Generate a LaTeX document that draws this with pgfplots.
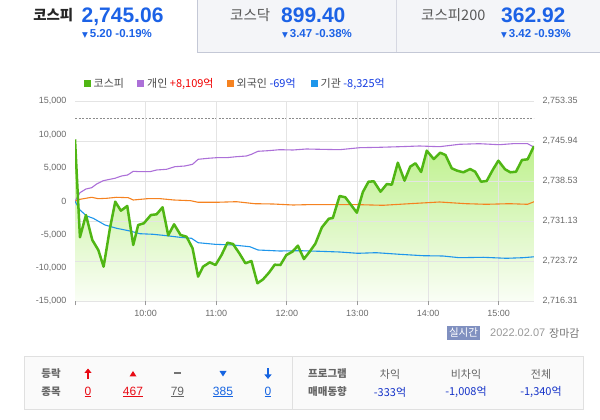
\documentclass[border=0pt]{standalone}
\usepackage{pgfplots}
\pgfplotsset{compat=1.18}
\usepackage{pgfplotstable}
\usetikzlibrary{arrows.meta}
\usepackage{fontspec}
\setmainfont{Liberation Sans}
\newfontfamily\kr{Noto Sans CJK KR}
\newfontfamily\dv{DejaVu Sans}
\definecolor{kgreen}{RGB}{80,182,20}
\definecolor{kpurple}{RGB}{172,112,216}
\definecolor{korange}{RGB}{245,130,32}
\definecolor{kblue}{RGB}{30,150,235}
\definecolor{numblue}{RGB}{28,98,230}
\definecolor{tickgray}{RGB}{105,105,105}
\definecolor{gridgray}{RGB}{228,228,228}
\definecolor{tabbg}{RGB}{244,245,248}
\definecolor{tabline}{RGB}{196,200,214}
\definecolor{badge}{RGB}{128,144,192}
\definecolor{updred}{RGB}{232,10,20}
\definecolor{dnblue}{RGB}{22,100,225}
\definecolor{valblue}{RGB}{20,50,200}
\definecolor{legred}{RGB}{240,0,0}
\definecolor{legblue}{RGB}{20,60,225}
\definecolor{filltop}{RGB}{188,240,138}
\definecolor{fillbot}{RGB}{250,254,246}

% KOSPI index (right axis), t = minutes after 09:00
\pgfplotstableread{
t v
0 2746.31
4.2 2728.16
9.3 2732.29
14.7 2727.66
19.8 2725.81
24.3 2722.72
29.7 2729.83
34.2 2734.76
39.0 2733.09
44.4 2733.96
49.5 2726.74
53.7 2730.44
58.5 2730.76
64.5 2732.29
69.3 2732.42
74.4 2733.72
79.2 2728.53
84.2 2730.57
89.7 2728.59
94.8 2728.27
99.9 2726.13
104.6 2720.87
108.8 2722.72
114.5 2723.53
119.4 2723.03
124.5 2724.88
129.5 2727.16
134.3 2726.92
140.0 2725.07
144.8 2723.35
149.9 2723.77
155.0 2719.64
159.8 2720.38
164.8 2721.61
169.7 2723.09
174.5 2723.03
179.6 2724.88
184.7 2725.50
189.4 2726.61
194.5 2724.14
199.4 2725.50
204.2 2726.98
209.8 2730.01
215.7 2731.61
219.1 2731.74
224.8 2735.81
229.7 2735.57
239.5 2732.72
244.6 2736.55
249.4 2738.46
253.9 2738.53
259.6 2736.61
265.0 2738.03
269.2 2737.90
274.3 2741.98
280.0 2738.65
284.8 2741.24
289.3 2741.87
294.1 2740.26
298.9 2744.20
304.8 2742.66
310.3 2743.83
314.8 2743.40
320.1 2740.94
324.7 2740.50
330.0 2740.20
335.7 2740.81
340.0 2740.31
345.0 2738.46
349.8 2738.59
354.9 2740.63
359.7 2742.35
365.4 2740.76
369.9 2740.20
374.7 2740.31
379.8 2742.48
384.6 2742.61
390.0 2745.06
}\kospi

% individuals (left axis, 100 million won)
\pgfplotstableread{
t v
0 0
4.2 1290
9.3 1845
14.2 2040
18.4 2595
24.0 3090
29.7 3300
33.9 3450
39.6 3795
44.7 3945
49.5 4500
55.1 4440
63.6 4440
69.3 4695
77.8 4800
84.8 5190
93.3 5295
99.9 5550
104.6 6300
113.1 6450
120.2 6540
128.7 6540
137.2 6690
145.7 6795
149.9 7050
155.5 7500
164.0 7590
173.9 7740
185.2 7695
196.6 7845
207.9 7800
224.8 7740
241.8 8040
258.8 8100
275.8 8190
292.7 8295
309.7 8190
326.6 8550
343.6 8640
360.6 8490
371.9 8640
384.6 8640
390.0 8109
}\indiv

% foreigners
\pgfplotstableread{
t v
0 0
4.2 300
14.2 600
19.8 390
26.9 450
35.4 600
45.3 540
49.5 195
61.5 390
72.7 390
84.0 195
98.3 90
104.6 -150
120.2 -150
137.2 -60
152.7 -360
168.3 -405
185.2 -555
196.6 -510
207.9 -510
216.4 -510
241.8 -510
261.6 -600
284.3 -360
309.7 -105
332.3 -360
349.3 -450
369.1 -360
384.6 -450
390.0 -69
}\foreign

% institutions
\pgfplotstableread{
t v
0 0
4.2 -1305
9.9 -2205
15.5 -2550
25.5 -3555
35.4 -4050
46.7 -4455
55.1 -4860
66.4 -4950
77.8 -5160
89.1 -5400
99.0 -5550
104.6 -6210
118.8 -6450
134.3 -6555
148.5 -6810
155.5 -7305
173.9 -7455
190.9 -7410
207.9 -7500
224.8 -7605
240.3 -7800
255.9 -7710
275.8 -7950
295.6 -8160
312.6 -8205
326.6 -8460
346.8 -8400
366.5 -8550
380.7 -8460
390.0 -8325
}\inst

\pgfplotsset{
  base/.style={scale only axis, width=459pt, height=200pt,
    at={(75pt,118.7pt)}, anchor=south west,
    xmin=0, xmax=390, axis line style={draw=none},
    scaled x ticks=false, scaled y ticks=false,
    tick label style={font=\fontsize{9}{10}\selectfont, text=tickgray}},
}

\begin{document}
\begin{tikzpicture}
\path[use as bounding box] (0pt,0pt) rectangle (600pt,420pt);

% ---------- top tabs ----------
\fill[tabbg] (197pt,420pt) rectangle (600pt,367.7pt);
\draw[tabline, line width=0.8pt] (197.5pt,420pt) -- (197.5pt,367.7pt) -- (600pt,367.7pt);
\draw[tabline!70, line width=0.8pt] (396pt,420pt) -- (396pt,368pt);

\node[anchor=east, inner sep=0pt, font=\kr\bfseries\fontsize{14.5}{15}\selectfont, text=black!85] at (73.5pt,405pt) {코스피};
\node[anchor=base west, inner sep=0pt, font=\bfseries\fontsize{21}{21}\selectfont, text=numblue] at (81.5pt,397.5pt) {2,745.06};
\node[anchor=base west, inner sep=0pt, font=\bfseries\fontsize{11.5}{12}\selectfont, text=numblue] at (82pt,382pt) {{\dv\fontsize{7.5}{7.5}\selectfont ▼}\,5.20 -0.19\%};

\node[anchor=west, inner sep=0pt, font=\kr\fontsize{14.5}{15}\selectfont, text=black!65] at (230pt,405pt) {코스닥};
\node[anchor=base west, inner sep=0pt, font=\bfseries\fontsize{21}{21}\selectfont, text=numblue] at (281pt,397.5pt) {899.40};
\node[anchor=base west, inner sep=0pt, font=\bfseries\fontsize{11.5}{12}\selectfont, text=numblue] at (282pt,382pt) {{\dv\fontsize{7.5}{7.5}\selectfont ▼}\,3.47 -0.38\%};

\node[anchor=west, inner sep=0pt, font=\kr\fontsize{14.5}{15}\selectfont, text=black!65] at (421pt,405pt) {코스피200};
\node[anchor=base west, inner sep=0pt, font=\bfseries\fontsize{21}{21}\selectfont, text=numblue] at (501pt,397.5pt) {362.92};
\node[anchor=base west, inner sep=0pt, font=\bfseries\fontsize{11.5}{12}\selectfont, text=numblue] at (501pt,382pt) {{\dv\fontsize{7.5}{7.5}\selectfont ▼}\,3.42 -0.93\%};

% ---------- legend ----------
\fill[kgreen] (84pt,332.8pt) rectangle +(7pt,7pt);
\node[anchor=west, inner sep=0pt, font=\kr\fontsize{11}{12}\selectfont, text=black!70] at (93.5pt,336.3pt) {코스피};
\fill[kpurple] (137pt,332.8pt) rectangle +(7pt,7pt);
\node[anchor=west, inner sep=0pt, font=\kr\fontsize{11}{12}\selectfont, text=black!70] at (147pt,336.3pt) {개인 \textcolor{legred}{+8,109억}};
\fill[korange] (227pt,332.8pt) rectangle +(7pt,7pt);
\node[anchor=west, inner sep=0pt, font=\kr\fontsize{11}{12}\selectfont, text=black!70] at (236.5pt,336.3pt) {외국인 \textcolor{legblue}{-69억}};
\fill[kblue] (311pt,332.8pt) rectangle +(7pt,7pt);
\node[anchor=west, inner sep=0pt, font=\kr\fontsize{11}{12}\selectfont, text=black!70] at (320.5pt,336.3pt) {기관 \textcolor{legblue}{-8,325억}};

% ---------- axis 1: grid, fill, right scale (KOSPI minus 2716.31) ----------
\begin{axis}[base,
  ymin=0, ymax=37.04,
  axis on top,
  xtick={60,120,180,240,300,360},
  xticklabels={10:00,11:00,12:00,13:00,14:00,15:00},
  extra x ticks={0}, extra x tick labels={}, extra x tick style={grid=none},
  xtick pos=bottom, tick align=outside, major tick length=4pt,
  xtick style={draw=black!40, line width=0.8pt},
  xticklabel style={yshift=-1pt},
  ytick={0,7.408,14.816,22.224,29.632,37.04},
  yticklabels={{2,716.31},{2,723.72},{2,731.13},{2,738.53},{2,745.94},{2,753.35}},
  ytick pos=right, yticklabel pos=right,
  ytick style={draw=none},
  yticklabel style={xshift=1pt},
  xmajorgrids, ymajorgrids,
  grid style={draw=gridgray, line width=0.8pt},
]
\addplot[top color=filltop, bottom color=fillbot, draw=none] table[x=t, y expr=\thisrow{v}-2716.31]{\kospi} \closedcycle;
\addplot[draw=black!45, line width=0.7pt, dash pattern=on 2pt off 1.5pt] coordinates {(0,33.95) (390,33.95)};
\draw[black!40, line width=1pt] (rel axis cs:0,0) -- (rel axis cs:1,0);
\end{axis}

% ---------- axis 2: investors, left scale ----------
\begin{axis}[base,
  ymin=-15000, ymax=15000,
  xtick=\empty,
  ytick={-15000,-10000,-5000,0,5000,10000,15000},
  yticklabels={{-15,000},{-10,000},{-5,000},0,{5,000},{10,000},{15,000}},
  ytick pos=left, yticklabel pos=left,
  ytick style={draw=none}, tick align=outside, major tick length=4pt,
  yticklabel style={xshift=-1pt},
]
\addplot[kpurple, line width=1.1pt, line join=round] table[x=t,y=v]{\indiv};
\addplot[korange, line width=1.1pt, line join=round] table[x=t,y=v]{\foreign};
\addplot[kblue, line width=1.1pt, line join=round] table[x=t,y=v]{\inst};
\end{axis}

% ---------- axis 3: KOSPI line ----------
\begin{axis}[base, hide axis, ymin=2716.31, ymax=2753.35]
\addplot[kgreen, line width=2.5pt, line join=round] table[x=t,y=v]{\kospi};
\end{axis}

% ---------- status under chart ----------
\fill[badge] (447pt,80pt) rectangle (480pt,94pt);
\node[inner sep=0pt, font=\kr\fontsize{10.5}{11}\selectfont, text=white] at (463.5pt,87pt) {실시간};
\node[anchor=west, inner sep=0pt, font=\fontsize{11}{12}\selectfont, text=black!40] at (490pt,87pt) {2022.02.07};
\node[anchor=west, inner sep=0pt, font=\kr\fontsize{11}{12}\selectfont, text=black!55] at (549pt,87pt) {장마감};

% ---------- bottom table ----------
\draw[draw=black!12, fill=black!2, line width=0.8pt] (24pt,11pt) rectangle (583pt,64pt);
\draw[black!12, line width=0.8pt] (292pt,11pt) -- (292pt,64pt);

\node[inner sep=0pt, font=\kr\bfseries\fontsize{10.5}{11}\selectfont, text=black!60] at (51pt,46pt) {등락};
\node[inner sep=0pt, font=\kr\bfseries\fontsize{10.5}{11}\selectfont, text=black!60] at (51pt,28pt) {종목};

\draw[updred, line width=1.6pt, -{Triangle[length=4.5pt,width=7pt]}] (88pt,41pt) -- (88pt,51.5pt);
\node[inner sep=0pt, font=\fontsize{12}{13}\selectfont, text=updred] at (88pt,28pt) {\underline{0}};
\fill[updred] (129.5pt,43.5pt) -- (136.5pt,43.5pt) -- (133pt,49pt) -- cycle;
\node[inner sep=0pt, font=\fontsize{12}{13}\selectfont, text=updred] at (133pt,28pt) {\underline{467}};
\fill[black!55] (173.5pt,45.7pt) rectangle (180.5pt,47.5pt);
\node[inner sep=0pt, font=\fontsize{12}{13}\selectfont, text=black!60] at (177.5pt,28pt) {\underline{79}};
\fill[dnblue] (219.5pt,49pt) -- (226.5pt,49pt) -- (223pt,43.5pt) -- cycle;
\node[inner sep=0pt, font=\fontsize{12}{13}\selectfont, text=dnblue] at (223pt,28pt) {\underline{385}};
\draw[dnblue, line width=1.6pt, -{Triangle[length=4.5pt,width=7pt]}] (268pt,51.5pt) -- (268pt,41pt);
\node[inner sep=0pt, font=\fontsize{12}{13}\selectfont, text=dnblue] at (268pt,28pt) {\underline{0}};

\node[inner sep=0pt, font=\kr\bfseries\fontsize{10.5}{11}\selectfont, text=black!60] at (327.5pt,46pt) {프로그램};
\node[inner sep=0pt, font=\kr\bfseries\fontsize{10.5}{11}\selectfont, text=black!60] at (327.5pt,28pt) {매매동향};
\node[inner sep=0pt, font=\kr\fontsize{11}{12}\selectfont, text=black!60] at (390pt,46pt) {차익};
\node[inner sep=0pt, font=\kr\fontsize{11}{12}\selectfont, text=valblue] at (390pt,28pt) {-333억};
\node[inner sep=0pt, font=\kr\fontsize{11}{12}\selectfont, text=black!60] at (466pt,46pt) {비차익};
\node[inner sep=0pt, font=\kr\fontsize{11}{12}\selectfont, text=valblue] at (466pt,28pt) {-1,008억};
\node[inner sep=0pt, font=\kr\fontsize{11}{12}\selectfont, text=black!60] at (541pt,46pt) {전체};
\node[inner sep=0pt, font=\kr\fontsize{11}{12}\selectfont, text=valblue] at (541pt,28pt) {-1,340억};
\end{tikzpicture}
\end{document}
